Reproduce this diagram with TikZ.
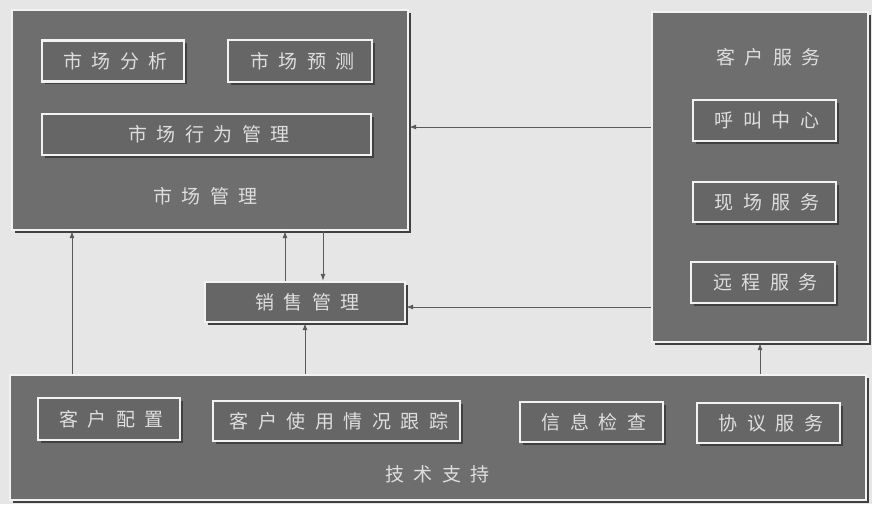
\documentclass[tikz,border=0pt]{standalone}
\usepackage{fontspec}
\newfontfamily\cjk[LetterSpace=50]{Noto Sans CJK SC}
\usetikzlibrary{arrows.meta,shadows}
\definecolor{bg}{HTML}{E6E6E6}
\definecolor{boxgray}{HTML}{6E6E6E}
\definecolor{innergray}{HTML}{666666}
\definecolor{edge}{HTML}{F2F2F2}
\definecolor{txt}{HTML}{DEDEDE}
\definecolor{linegray}{HTML}{5A5A5A}
\tikzset{
  outerbox/.style={rectangle, fill=boxgray, draw=edge, line width=2.4pt, inner sep=0pt,
    drop shadow={shadow xshift=2.5pt, shadow yshift=-2.5pt, fill=black!75, opacity=1}},
  innerbox/.style={rectangle, fill=innergray, draw=edge, line width=2.4pt, inner sep=0pt,
    drop shadow={shadow xshift=2.5pt, shadow yshift=-2.5pt, fill=black!75, opacity=1},
    text=txt, font=\cjk\fontsize{19}{19}\selectfont},
  titletext/.style={text=txt, font=\cjk\fontsize{19}{19}\selectfont},
  arr/.style={draw=linegray, line width=0.9pt, -{Latex[length=7pt,width=5pt]}}
}
\begin{document}
\begin{tikzpicture}[x=1pt,y=-1pt]
\fill[bg] (0,0) rectangle (872,504);
\useasboundingbox (0,0) rectangle (872,504);
% market management
\node[outerbox, minimum width=396pt, minimum height=220pt] (mm) at (210,120) {};
\node[innerbox, minimum width=142pt, minimum height=41pt] (ma) at (113,61) {\hspace{5pt}市场分析};
\node[innerbox, minimum width=144pt, minimum height=42pt] (mf) at (300,61) {\hspace{5pt}市场预测};
\node[innerbox, minimum width=329pt, minimum height=41pt] (mb) at (206.5,134.5) {\hspace{5pt}市场行为管理};
\node[titletext] (mmt) at (203,196) {\hspace{5pt}市场管理};
% sales
\node[innerbox, minimum width=200pt, minimum height=40pt] (sales) at (305,302) {\hspace{5pt}销售管理};
% customer service
\node[outerbox, minimum width=216pt, minimum height=330pt] (cs) at (760,177) {};
\node[titletext] (cst) at (766,57) {\hspace{5pt}客户服务};
\node[innerbox, minimum width=143pt, minimum height=41pt] (cc) at (764.5,120.5) {\hspace{5pt}呼叫中心};
\node[innerbox, minimum width=143pt, minimum height=40pt] (fs) at (764.5,202) {\hspace{5pt}现场服务};
\node[innerbox, minimum width=144pt, minimum height=41pt] (rs) at (763,282.5) {\hspace{5pt}远程服务};
% technical support
\node[outerbox, minimum width=856pt, minimum height=125pt] (ts) at (438,437.5) {};
\node[innerbox, minimum width=142pt, minimum height=42pt] (t1) at (109,419) {\hspace{5pt}客户配置};
\node[innerbox, minimum width=247pt, minimum height=40pt] (t2) at (336.5,421) {\hspace{5pt}客户使用情况跟踪};
\node[innerbox, minimum width=143pt, minimum height=40pt] (t3) at (591.5,422) {\hspace{5pt}信息检查};
\node[innerbox, minimum width=143pt, minimum height=40pt] (t4) at (768.5,423) {\hspace{5pt}协议服务};
\node[titletext] (tst) at (435,474) {\hspace{5pt}技术支持};
% helper coordinates
\coordinate (xa) at (72,0);
\coordinate (xb) at (285,0);
\coordinate (xc) at (323,0);
\coordinate (ya) at (0,127);
\coordinate (yb) at (0,307);
% connectors
\draw[arr] (ts.north -| xa) -- (mm.south -| xa);
\draw[arr] (sales.north -| xb) -- (mm.south -| xb);
\draw[arr] (mm.south -| xc) -- (sales.north -| xc);
\draw[arr] (ts.north -| sales.south) -- (sales.south);
\draw[arr] (ts.north -| cs.south) -- (cs.south);
\draw[arr] (cs.west |- yb) -- (sales.east |- yb);
\draw[arr] (cs.west |- ya) -- (mm.east |- ya);
\end{tikzpicture}
\end{document}
